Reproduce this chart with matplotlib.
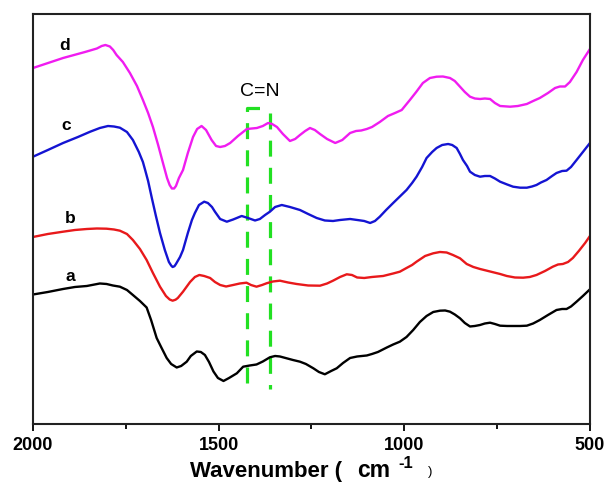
import matplotlib
matplotlib.use("Agg")
import matplotlib.pyplot as plt
from matplotlib.ticker import MultipleLocator

plt.rcParams["font.family"] = ["Liberation Sans", "DejaVu Sans"]

# FTIR spectra, wavenumber (cm-1) vs. offset transmittance (a.u.)
wn_a = [2000, 1960, 1919, 1887, 1855, 1820, 1802, 1785, 1766, 1747, 1731, 1712, 1694, 1682,
        1667, 1655, 1640, 1628, 1613, 1601, 1586, 1575, 1559, 1548, 1537, 1526, 1514, 1502,
        1487, 1472, 1451, 1434, 1416, 1398, 1381, 1362, 1348, 1335, 1317, 1300, 1281, 1265,
        1245, 1230, 1214, 1197, 1182, 1165, 1146, 1127, 1101, 1087, 1071, 1047, 1030, 1012,
        994, 976, 958, 940, 922, 904, 890, 877, 864, 850, 837, 823, 810, 796, 783, 769, 756,
        742, 723, 706, 688, 670, 653, 635, 613, 590, 575, 563, 551, 536, 519, 500]
sig_a = [129.5, 132, 135, 137, 138, 140.5, 140, 138.5, 137.3, 134, 129, 123, 116.5, 104,
         86, 77, 66, 60, 56.5, 58, 62.3, 68, 72.5, 72, 69, 62, 52.5, 46,
         43, 46, 50.7, 57.3, 58.5, 59.5, 62.5, 66.7, 68, 67.5, 65.7, 64, 62.3, 60,
         55.7, 52, 49.7, 53, 55.7, 61, 66, 67.5, 68.5, 70, 72, 76.5, 79.5, 82.3,
         87, 94, 102, 108, 112, 113.3, 113.5, 112.3, 109.5, 105.7, 101, 97.5, 98, 99, 100.5, 101.3, 100,
         98.3, 98, 98, 98, 98.3, 100.5, 104, 109, 114, 115, 115, 117.5, 122.3, 128, 134.7]

wn_b = [2000, 1960, 1919, 1887, 1855, 1828, 1802, 1782, 1766, 1747, 1731, 1712, 1694, 1677,
        1658, 1642, 1632, 1624, 1616, 1610, 1596, 1577, 1564, 1552, 1539, 1523, 1510, 1496, 1480, 1461,
        1443, 1425, 1413, 1398, 1383, 1371, 1354, 1335, 1313, 1290, 1259, 1227, 1208, 1192,
        1173, 1155, 1141, 1127, 1108, 1087, 1057, 1030, 1012, 994, 979, 967, 944, 922, 904,
        886, 869, 850, 832, 814, 796, 769, 742, 724, 702, 680, 662, 644, 621, 600, 586, 573,
        559, 546, 530, 513, 500]
sig_b = [187, 190, 192.3, 194, 195, 195.5, 195.3, 194.5, 193.3, 190, 184, 175, 164, 151,
         137.3, 128, 124.5, 123.3, 124.3, 126, 132.3, 142, 147, 149, 148, 146, 142, 139, 137.5, 139,
         140.5, 141.3, 139, 137.3, 139, 140.7, 142.5, 143.3, 141.5, 140, 138.5, 138.3, 140.5, 143.3,
         147, 149.7, 149, 146.5, 146, 147, 148, 150.5, 152.3, 156, 159, 162.3, 168, 170.7, 172,
         171.5, 169, 165.7, 160, 157, 155, 152.5, 150, 148, 146.5, 146.3, 147, 149, 153, 157.3, 159.5, 160,
         162, 166, 173, 181, 188]

wn_c = [2000, 1960, 1919, 1879, 1846, 1820, 1798, 1782, 1766, 1747, 1731, 1715, 1704, 1698, 1690,
        1680, 1669, 1658, 1645, 1634, 1628, 1624, 1619, 1615, 1604, 1596, 1583, 1572, 1564, 1553, 1539,
        1529, 1518, 1510, 1496, 1478, 1461, 1438, 1421, 1402, 1389, 1375, 1362, 1348, 1330,
        1308, 1281, 1259, 1236, 1214, 1192, 1173, 1146, 1121, 1108, 1092, 1079, 1066, 1049,
        1030, 1012, 994, 979, 967, 952, 940, 925, 913, 898, 882, 871, 859, 850, 842, 831, 823,
        810, 796, 783, 769, 756, 742, 723, 707, 688, 670, 656, 644, 632, 617, 602, 590, 575,
        563, 551, 536, 519, 500]
sig_c = [267.3, 274, 281, 287, 292.3, 296, 298, 297.5, 296.3, 292, 284, 272, 262, 254, 243,
         226, 208, 191, 174, 162, 158.5, 157, 157.8, 160, 167, 174, 191, 204, 211, 219, 222.3,
         221, 217, 212.3, 205, 202.3, 204.5, 208, 206, 203.5, 205, 209, 212.3, 217, 219,
         217, 214, 210, 206, 203.5, 203, 204, 205, 203.7, 203, 201, 203, 207.3, 214,
         221, 227.5, 234, 241, 247.3, 257, 266, 272, 276, 279, 280, 279, 276, 270, 264, 258, 252.3,
         249, 247.3, 248, 248, 245.5, 242.3, 239.5, 237.3, 236.3, 236.3, 237.5, 239, 241.5, 244, 248, 251, 253,
         253.3, 257, 264, 272, 281]

wn_d = [2000, 1919, 1860, 1828, 1815, 1805, 1793, 1784, 1775, 1758, 1739, 1720, 1704, 1690, 1677, 1663, 1650,
        1639, 1632, 1626, 1620, 1615, 1607, 1596, 1583, 1569, 1558, 1546, 1534, 1519, 1507, 1496, 1483,
        1469, 1448, 1424, 1397, 1381, 1367, 1356, 1343, 1327, 1308, 1294, 1281, 1267, 1254,
        1241, 1227, 1208, 1186, 1167, 1146, 1130, 1116, 1101, 1087, 1066, 1044, 1025, 1007,
        985, 968, 950, 931, 913, 896, 877, 864, 850, 837, 823, 810, 796, 783, 769, 756, 742,
        715, 694, 670, 653, 635, 613, 594, 581, 567, 554, 536, 519, 500]
sig_d = [356, 366, 372, 375.5, 378, 379, 377.5, 374, 369, 362, 351, 338, 324, 311, 297, 279, 261,
         246, 239, 235.5, 235.5, 238, 246, 254, 271, 287, 295, 298, 294, 284, 278, 277, 278,
         281, 288, 295, 296, 298, 301, 300, 297, 290, 283, 285, 289, 293, 296,
         294, 290, 285, 281, 284, 291, 293, 293.5, 295, 297, 302, 308, 311, 314,
         324, 332, 341, 346, 347.3, 347.5, 346, 343, 337.3, 332, 327.3, 325.5, 325, 325.5, 325, 321, 318,
         317.3, 318, 320, 323, 326, 331, 336, 337.5, 337.5, 342, 352, 364, 375]

spectra = [
    ("a", wn_a, sig_a, "#000000", (1900, 147)),
    ("b", wn_b, sig_b, "#e8191b", (1900, 205)),
    ("c", wn_c, sig_c, "#1414d2", (1911, 298)),
    ("d", wn_d, sig_d, "#f01cf0", (1914, 378)),
]

# C=N marker band
cn_left, cn_right, cn_bar_end = 1425, 1362, 1389
cn_top_left, cn_top_right = 316, 311
cn_bottom_left, cn_bottom_right = 41, 35

W, H = 608, 493
fig = plt.figure(figsize=(W / 100, H / 100), dpi=100)
ax = fig.add_axes([0.0543, 0.140, 0.916, 0.8316])

green = "#22e022"
ax.plot([cn_left, cn_left, cn_bar_end], [cn_bottom_left, cn_top_left, cn_top_left],
        color=green, lw=2.3, dashes=(5, 3.5), zorder=1)
ax.plot([cn_right, cn_right], [cn_top_right, cn_bottom_right],
        color=green, lw=2.3, dashes=(5, 3.5), zorder=1)
ax.text((cn_left + cn_right) / 2 - 3, 332, "C=N", ha="center", va="center", fontsize=14)

for name, wn, sig, col, pos in spectra:
    ax.plot(wn, sig, color=col, lw=1.7, zorder=2, solid_joinstyle="round")
    ax.text(pos[0], pos[1], name, ha="center", va="center", fontsize=12.5, fontweight="bold")

ax.set_xlim(2000, 500)
ax.set_ylim(0, 410)
ax.xaxis.set_major_locator(MultipleLocator(500))
ax.xaxis.set_minor_locator(MultipleLocator(250))
ax.set_yticks([])
ax.tick_params(axis="x", which="major", direction="out", length=5, width=1.3,
               labelsize=13, pad=4.5)
ax.tick_params(axis="x", which="minor", direction="out", length=3.5, width=1.3)
for lbl in ax.get_xticklabels():
    lbl.set_fontweight("bold")
for sp in ax.spines.values():
    sp.set_linewidth(1.5)
    sp.set_color("#222222")

# axis title set in pieces: bold words, bold superscript, small plain bracket
fig.text(190 / W, 1 - 477 / H, "Wavenumber (", fontsize=16, fontweight="bold",
         ha="left", va="baseline")
fig.text(357 / W, 1 - 477 / H, "cm", fontsize=16.5, fontweight="bold",
         ha="left", va="baseline")
fig.text(398 / W, 1 - 468 / H, "-1", fontsize=12, fontweight="bold",
         ha="left", va="baseline")
fig.text(428 / W, 1 - 475 / H, ")", fontsize=9.5, ha="left", va="baseline")

fig.savefig("out.png", dpi=100)
